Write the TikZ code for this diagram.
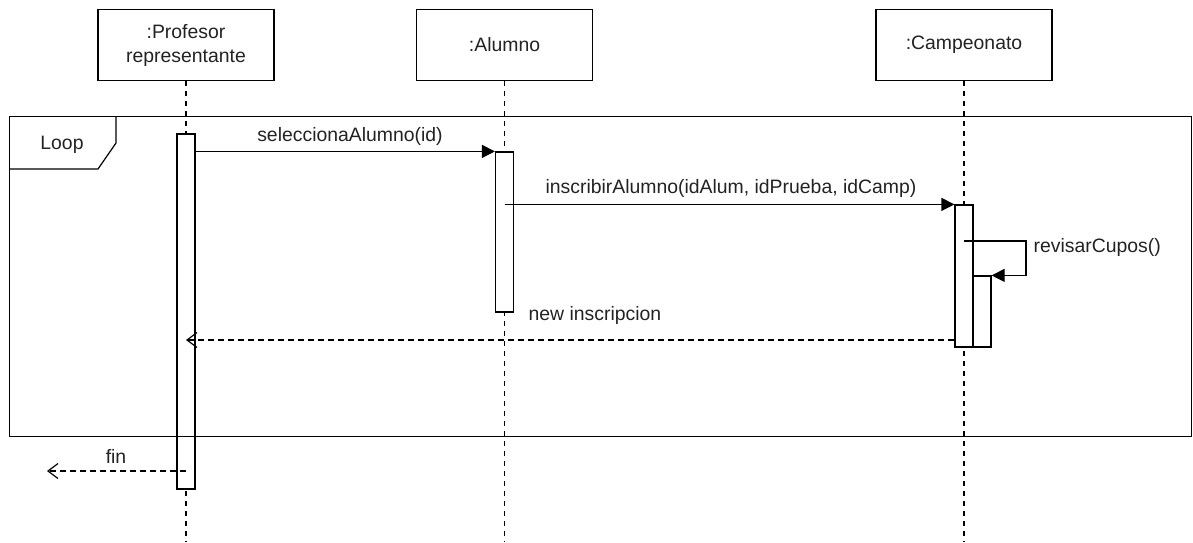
\documentclass[tikz,border=0pt]{standalone}
\usepackage{fontspec}
\setmainfont{Liberation Sans}
\usetikzlibrary{arrows.meta}
\definecolor{txt}{HTML}{222222}
\begin{document}
\begin{tikzpicture}[x=1pt,y=-1pt, line width=1.2pt,
  font=\fontsize{19.4}{24}\selectfont,
  obj/.style={draw, minimum width=176pt, minimum height=71pt, align=center, inner sep=0pt, text=txt},
  lifeline/.style={dash pattern=on 5pt off 5pt},
  bar/.style={draw, fill=white, minimum width=18pt, inner sep=0pt},
  msg/.style={-{Triangle[length=13pt,width=13pt]}},
  ret/.style={dash pattern=on 6pt off 4pt, -{Straight Barb[length=10pt,width=15pt]}},
  lbl/.style={inner sep=0pt, text=txt}]
\useasboundingbox (0,0) rectangle (1193,542);
\coordinate (bottom) at (0,542);
% objects
\node[obj] (prof) at (186,45) {:Profesor\\representante};
\node[obj] (alum) at (504.5,45) {:Alumno};
\node[obj] (camp) at (964,45) {:Campeonato};
% lifelines
\draw[lifeline] (prof.south) -- (prof.south |- bottom);
\draw[lifeline] (alum.south) -- (alum.south |- bottom);
\draw[lifeline] (camp.south) -- (camp.south |- bottom);
% activation bars
\node[bar, minimum height=355pt] (pbar) at (186,311.5) {};
\node[bar, minimum height=160pt] (abar) at (504.5,232) {};
\node[bar, minimum height=142pt] (cbar) at (964,276) {};
\node[bar, minimum height=71pt] (nbar) at (982,311.5) {};
% loop frame
\node[draw, anchor=north west, minimum width=1182pt, minimum height=320pt, inner sep=0pt] (loop) at (9,116) {};
\draw (loop.north west) ++(0,53) -- ++(89,0) -- ++(18,-26) -- ++(0,-27);
\node[lbl] (looplbl) at (62,145) {Loop};
% messages
\draw[msg] (pbar.east |- abar.north) -- (abar.north west);
\node[lbl] (m1) at (350,136) {seleccionaAlumno(id)};
\draw[msg] (alum.south |- cbar.north) -- (cbar.north west);
\node[lbl] (m2) at (731,188) {inscribirAlumno(idAlum, idPrueba, idCamp)};
\coordinate (s1) at (964,241);
\draw[msg] (s1) -- ++(62,0) |- (nbar.north east);
\node[lbl, anchor=west] (m3) at (1033,247) {revisarCupos()};
\coordinate (rety) at (0,340);
\draw[ret] (cbar.west |- rety) -- (prof.south |- rety);
\node[lbl, anchor=west] (m4) at (528,315) {new inscripcion};
\coordinate (finend) at (47,471);
\draw[ret] (prof.south |- finend) -- (finend);
\node[lbl] (m5) at (116,456) {fin};
\end{tikzpicture}
\end{document}
